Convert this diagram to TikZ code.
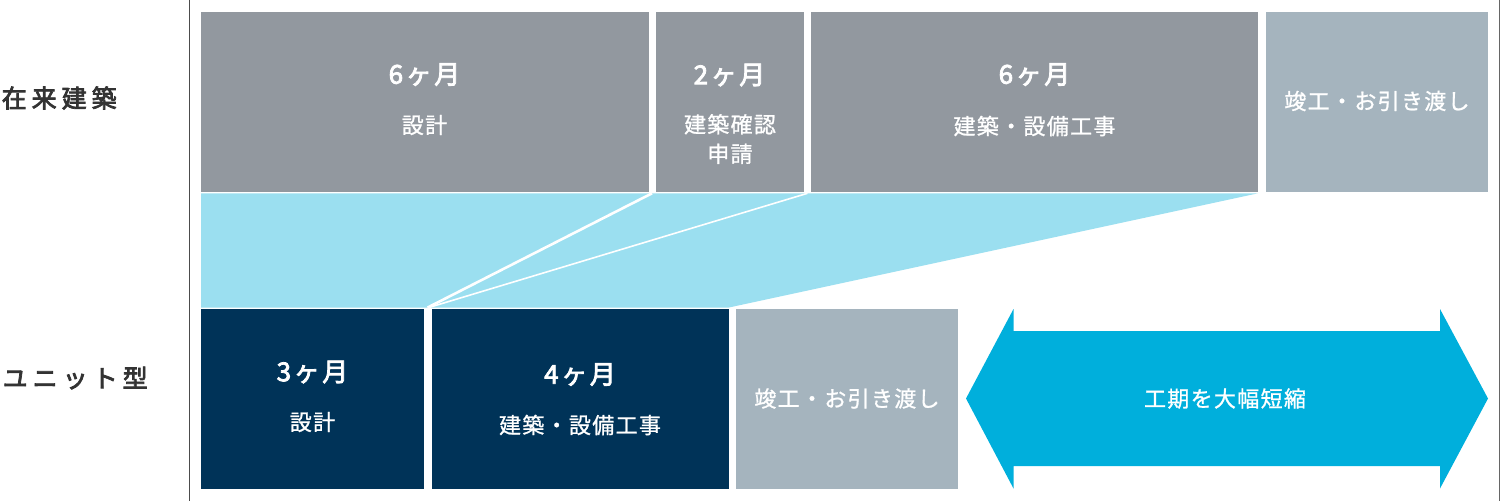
\documentclass[tikz,border=0pt]{standalone}
\usepackage{fontspec}
\newfontfamily\jpmon{Noto Sans CJK JP}[LetterSpace=10,FakeBold=3]
\newfontfamily\jpsub{Noto Sans CJK JP}[LetterSpace=6,FakeBold=1]
\newfontfamily\jplab{Noto Sans CJK JP}[LetterSpace=20,FakeBold=3]
\definecolor{topgrey}{HTML}{92989F}
\definecolor{lightgrey}{HTML}{A5B4BE}
\definecolor{lightblue}{HTML}{9BDFF0}
\definecolor{navy}{HTML}{003358}
\definecolor{arrowblue}{HTML}{00AFDC}
\definecolor{labelgrey}{HTML}{333333}
\tikzset{
  box/.style={inner sep=0pt, outer sep=0pt, anchor=north west},
  month/.style={text=white, inner sep=0pt, font=\jpmon\fontsize{26}{30}\selectfont},
  sub/.style={text=white, inner sep=0pt, align=center, font=\jpsub\fontsize{22}{29.5}\selectfont},
  rowlabel/.style={text=labelgrey, inner sep=0pt, anchor=west, font=\jplab\fontsize{25}{30}\selectfont},
}
\begin{document}
\begin{tikzpicture}[x=1pt,y=-1pt]
\useasboundingbox (0,0) rectangle (1500,501);
% frame lines
\draw[line width=1.5pt, color=black!70] (189.7,0) -- (189.7,501);
\draw[line width=1pt, color=black!60] (1499.3,0) -- (1499.3,501);
% connecting band
\fill[lightblue] (201,193.3) -- (1258,193.3) -- (729,307.5) -- (201,307.5) -- cycle;
\draw[white, line width=2.6pt] (652,193.3) -- (427.5,307.6);
\draw[white, line width=1.6pt] (807.5,193.3) -- (428.5,307.6);
% top row
\node[box, fill=topgrey, minimum width=447.5pt, minimum height=180pt] (t1) at (201,12) {};
\node[box, fill=topgrey, minimum width=148.5pt, minimum height=180pt] (t2) at (655.5,12) {};
\node[box, fill=topgrey, minimum width=447pt, minimum height=180pt] (t3) at (811,12) {};
\node[box, fill=lightgrey, minimum width=222pt, minimum height=180pt] (t4) at (1266,12) {};
% bottom row
\node[box, fill=navy, minimum width=223pt, minimum height=179.5pt] (b1) at (201,309) {};
\node[box, fill=navy, minimum width=296.7pt, minimum height=179.5pt] (b2) at (432,309) {};
\node[box, fill=lightgrey, minimum width=221.6pt, minimum height=179.5pt] (b3) at (736.4,309) {};
% arrow
\fill[arrowblue] (966,398.5) -- (1013.5,309) -- (1013.5,331) -- (1440,331) -- (1440,309)
  -- (1488,398.5) -- (1440,488.5) -- (1440,466) -- (1013.5,466) -- (1013.5,488.5) -- cycle;
% row labels
\node[rowlabel] (l1) at (1.5,98) {在来建築};
\node[rowlabel] (l2) at (2.5,378) {ユニット型};
% top texts
\node[month] (t1m) at (424.5,74.5) {6ヶ月};
\node[sub] (t1s) at (424.5,125) {設計};
\node[month] (t2m) at (729.5,75) {2ヶ月};
\node[sub] (t2s) at (730,139) {建築確認\\申請};
\node[month] (t3m) at (1034.5,74.5) {6ヶ月};
\node[sub] (t3s) at (1034.5,126) {建築・設備工事};
\node[sub] (t4s) at (1377,101) {竣工・お引き渡し};
% bottom texts
\node[month] (b1m) at (312.5,372) {3ヶ月};
\node[sub] (b1s) at (312.5,422) {設計};
\node[month] (b2m) at (580,374.5) {4ヶ月};
\node[sub] (b2s) at (580,425) {建築・設備工事};
\node[sub] (b3s) at (847,398.5) {竣工・お引き渡し};
\node[sub] (arr) at (1225,398.5) {工期を大幅短縮};
\end{tikzpicture}
\end{document}
